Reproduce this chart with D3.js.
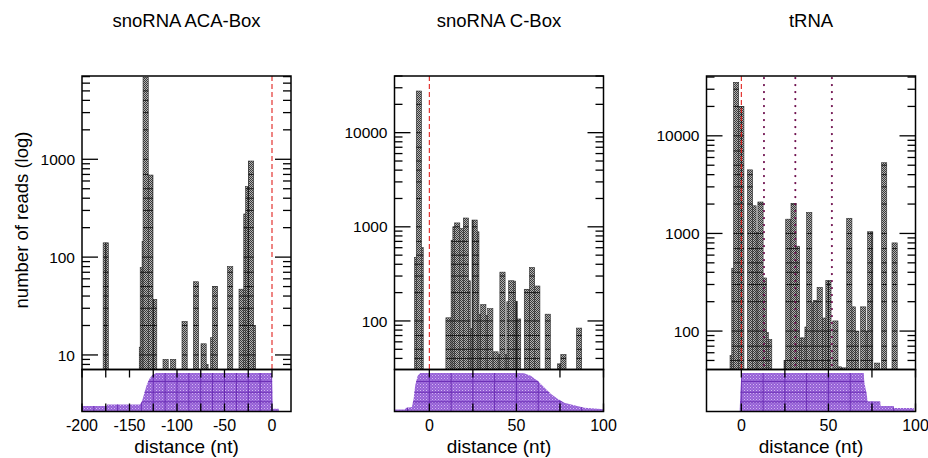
<!DOCTYPE html>
<html><head><meta charset="utf-8">
<script src="https://cdn.jsdelivr.net/npm/d3@7"></script>
<style>
body{margin:0;background:#fff}
svg{display:block}
text{font-family:"Liberation Sans",Arial,Helvetica,sans-serif;fill:#000}
</style>
</head><body>
<svg id="c" width="928" height="458"></svg>
<script>
// ---------------- data ----------------
const panelTitles = ["snoRNA ACA-Box", "snoRNA C-Box", "tRNA"];

// snoRNA ACA-Box: distance (nt) and number of reads
const acaPos   = [-175, -137, -136, -134, -133, -128, -124, -112, -104, -92, -80, -72, -70, -62, -60, -44, -32, -27, -25, -22, -20];
const acaReads = [ 140,   12,   78,  145, 6900,  690,   37,    9,    9,  22,  56,  13,   8,  15,  50,  80,  47, 276, 525, 960,  20];

// snoRNA C-Box
const cboxPos   = [-7, -6, -5, 11, 14, 15, 16, 18, 21, 22, 24, 26, 27, 28, 31, 32, 35, 38, 39, 42, 43, 46, 47, 48, 49, 51, 56, 57, 59, 62, 68, 75, 77, 86];
const cboxReads = [472, 27700, 600, 108, 720, 1000, 1100, 960, 1240, 267, 83, 1180, 885, 118, 149, 115, 135, 47, 44, 330, 44, 160, 267, 265, 162, 105, 217, 215, 370, 235, 118, 35, 44, 84];

// tRNA
const trnaPos   = [-5, -4, -3, 0, 5, 7, 9, 11, 13, 14, 16, 26, 27, 30, 32, 34, 36, 38, 39, 42, 43, 45, 48, 50, 54, 56, 59, 62, 64, 66, 70, 72, 74, 78, 82, 88];
const trnaReads = [56, 440, 35300, 20000, 4480, 1920, 1030, 2100, 350, 97, 82, 50, 1400, 2030, 740, 85, 85, 110, 1640, 195, 206, 280, 136, 330, 127, 43, 42, 1430, 177, 100, 177, 100, 1040, 47, 5300, 800];

// axis domains / ticks
const acaXDomain = [-200, 20],  cboxXDomain = [-20, 100], trnaXDomain = [-20, 100];
const acaYDomain = [7.1, 7100], cboxYDomain = [30.5, 40000], trnaYDomain = [40.4, 41000];
const acaXTickLabels  = [-200, -150, -100, -50, 0];
const cboxXTickLabels = [0, 50, 100];
const trnaXTickLabels = [0, 50, 100];
const acaYTickLabels  = [10, 100, 1000];
const cboxYTickLabels = [100, 1000, 10000];
const trnaYTickLabels = [100, 1000, 10000];

// reference lines
const acaRefLines = [0], cboxRefLines = [0], trnaRefLines = [0];
const trnaMotifLines = [13, 31, 52];

// coverage profile (fraction of max) shown in lower strip
const acaCovPos  = [-200, -174, -173.5, -139, -137, -135, -132, -129, -126, -122, 0, 0.6, 7, 7.5];
const acaCovVal  = [0.14, 0.14, 0.18, 0.18, 0.25, 0.42, 0.68, 0.85, 0.95, 1.0, 1.0, 0.07, 0.07, 0];
const cboxCovPos = [-20, -14, -13.8, -10, -9, -8.1, -6.7, -5.2, 50.5, 54.4, 58.2, 62.1, 65.9, 69.7, 73.6, 77.4, 83.2, 89, 96.7, 100];
const cboxCovVal = [0.05, 0.05, 0.09, 0.12, 0.33, 0.68, 0.93, 1.0, 1.0, 0.99, 0.93, 0.8, 0.63, 0.46, 0.33, 0.23, 0.16, 0.1, 0.07, 0.06];
const trnaCovPos = [-1, -0.5, 0, 70.3, 70.6, 72, 72.5, 79.7, 80, 87.3, 87.6, 99, 99.2];
const trnaCovVal = [0, 0.5, 1.0, 1.0, 0.76, 0.45, 0.26, 0.26, 0.14, 0.14, 0.09, 0.09, 0];

// ---------------- layout / style ----------------
const panelLeft = [82, 394.5, 706.5];
const panelW = 209;
const topY = 76, midY = 369.5, botY = 411.5;
const barPx = 5.2;
const gridMultipliers = [1, 2, 3, 4, 5, 7];

const panels = [
  {title: panelTitles[0], pos: acaPos, reads: acaReads, xDom: acaXDomain, yDom: acaYDomain,
   xLabels: acaXTickLabels, yLabels: acaYTickLabels, refs: acaRefLines, motifs: [], covPos: acaCovPos, covVal: acaCovVal},
  {title: panelTitles[1], pos: cboxPos, reads: cboxReads, xDom: cboxXDomain, yDom: cboxYDomain,
   xLabels: cboxXTickLabels, yLabels: cboxYTickLabels, refs: cboxRefLines, motifs: [], covPos: cboxCovPos, covVal: cboxCovVal},
  {title: panelTitles[2], pos: trnaPos, reads: trnaReads, xDom: trnaXDomain, yDom: trnaYDomain,
   xLabels: trnaXTickLabels, yLabels: trnaYTickLabels, refs: trnaRefLines, motifs: trnaMotifLines, covPos: trnaCovPos, covVal: trnaCovVal}
];

const svg = d3.select("#c");
const defs = svg.append("defs");

// bar texture
const bp = defs.append("pattern").attr("id", "barPat").attr("patternUnits", "userSpaceOnUse").attr("width", 2).attr("height", 2);
bp.append("rect").attr("width", 2).attr("height", 2).attr("fill", "#b2b2b2");
bp.append("rect").attr("width", 1).attr("height", 1).attr("fill", "#3a3a3a");
bp.append("rect").attr("x", 1).attr("y", 1).attr("width", 1).attr("height", 1).attr("fill", "#3a3a3a");
// coverage texture
const cp = defs.append("pattern").attr("id", "covPat").attr("patternUnits", "userSpaceOnUse").attr("width", 3).attr("height", 3);
cp.append("rect").attr("width", 3).attr("height", 3).attr("fill", "#955fd6");
cp.append("rect").attr("width", 1).attr("height", 1).attr("fill", "#d2b8f2");
cp.append("rect").attr("x", 1.5).attr("y", 1.5).attr("width", 1).attr("height", 1).attr("fill", "#c0a0ec");

function logTicks(dom) {
  const out = [];
  const d0 = Math.floor(Math.log10(dom[0])), d1 = Math.ceil(Math.log10(dom[1]));
  for (let d = d0; d <= d1; d++) for (let m = 1; m <= 9; m++) {
    const v = m * Math.pow(10, d);
    if (v >= dom[0] && v <= dom[1]) out.push({v, m});
  }
  return out;
}
function stepTicks(dom, step) {
  const out = [];
  for (let v = Math.ceil(dom[0] / step) * step; v <= dom[1] + 1e-9; v += step) out.push(v);
  return out;
}

panels.forEach((p, i) => {
  const x0 = panelLeft[i], x1 = x0 + panelW;
  const x = d3.scaleLinear().domain(p.xDom).range([x0, x1]);
  const y = d3.scaleLog().domain(p.yDom).range([midY, topY]);
  const yc = d3.scaleLinear().domain([0, 1.09]).range([botY, midY]);
  const g = svg.append("g");

  const bars = p.pos.map((d, k) => ({pos: d, n: p.reads[k]}))
                    .sort((a, b) => a.n - b.n);

  defs.append("clipPath").attr("id", "plot" + i).append("rect")
      .attr("x", x0).attr("y", topY).attr("width", panelW).attr("height", midY - topY);

  const bc = defs.append("clipPath").attr("id", "bars" + i);
  bc.selectAll("rect").data(bars).join("rect")
    .attr("x", d => x(d.pos) - barPx / 2).attr("width", barPx)
    .attr("y", d => y(d.n)).attr("height", d => midY - y(d.n));

  const up = g.append("g").attr("clip-path", `url(#plot${i})`);
  up.selectAll("rect.bar").data(bars).join("rect").attr("class", "bar")
    .attr("x", d => x(d.pos) - barPx / 2).attr("width", barPx)
    .attr("y", d => y(d.n)).attr("height", d => midY - y(d.n))
    .attr("fill", "url(#barPat)").attr("stroke", "#2a2a2a").attr("stroke-width", 0.6);

  const gridG = up.append("g").attr("clip-path", `url(#bars${i})`);
  logTicks(p.yDom).filter(t => gridMultipliers.includes(t.m)).forEach(t => {
    gridG.append("line").attr("x1", x0).attr("x2", x1).attr("y1", y(t.v)).attr("y2", y(t.v))
      .attr("stroke", "#111").attr("stroke-width", 0.9);
  });
  stepTicks(p.xDom, 25).forEach(v => {
    gridG.append("line").attr("x1", x(v)).attr("x2", x(v)).attr("y1", topY).attr("y2", midY)
      .attr("stroke", "#111").attr("stroke-width", 0.9);
  });

  p.refs.forEach(v => {
    up.append("line").attr("x1", x(v)).attr("x2", x(v)).attr("y1", topY).attr("y2", midY)
      .attr("stroke", "#e0201c").attr("stroke-width", 1.1).attr("stroke-dasharray", "5,3");
  });
  p.motifs.forEach(v => {
    up.append("line").attr("x1", x(v)).attr("x2", x(v)).attr("y1", topY + 2).attr("y2", midY)
      .attr("stroke", "#6e0f4e").attr("stroke-width", 2.2).attr("stroke-linecap", "round")
      .attr("stroke-dasharray", "0.1,6.9");
  });

  const cov = p.covPos.map((d, k) => ({pos: d, v: p.covVal[k]}));
  const area = d3.area().x(d => x(d.pos)).y0(botY).y1(d => yc(d.v));
  defs.append("clipPath").attr("id", "cov" + i).append("path").attr("d", area(cov));
  g.append("path").attr("d", area(cov)).attr("fill", "url(#covPat)");
  const cg = g.append("g").attr("clip-path", `url(#cov${i})`);
  stepTicks(p.xDom, 12.5).forEach(v => {
    cg.append("line").attr("x1", x(v)).attr("x2", x(v)).attr("y1", midY).attr("y2", botY)
      .attr("stroke", "#6a2db4").attr("stroke-width", 1);
  });
  [0.25, 0.5, 0.78].forEach(v => {
    cg.append("line").attr("x1", x0).attr("x2", x1).attr("y1", yc(v)).attr("y2", yc(v))
      .attr("stroke", "#6a2db4").attr("stroke-width", 1);
  });

  g.append("rect").attr("x", x0).attr("y", topY).attr("width", panelW).attr("height", midY - topY)
    .attr("fill", "none").attr("stroke", "#000").attr("stroke-width", 1.5);
  g.append("rect").attr("x", x0).attr("y", midY).attr("width", panelW).attr("height", botY - midY)
    .attr("fill", "none").attr("stroke", "#000").attr("stroke-width", 1.5);

  logTicks(p.yDom).forEach(t => {
    const len = t.m === 1 ? 16 : 8;
    g.append("line").attr("x1", x0).attr("x2", x0 + len).attr("y1", y(t.v)).attr("y2", y(t.v))
      .attr("stroke", "#000").attr("stroke-width", 1.3);
    g.append("line").attr("x1", x1 - len).attr("x2", x1).attr("y1", y(t.v)).attr("y2", y(t.v))
      .attr("stroke", "#000").attr("stroke-width", 1.3);
  });
  p.yLabels.forEach(v => {
    g.append("text").attr("x", x0 - 7).attr("y", y(v)).attr("dy", "0.36em")
      .attr("text-anchor", "end").attr("font-size", 15.5).text(String(v));
  });

  stepTicks(p.xDom, 25).forEach(v => {
    g.append("line").attr("x1", x(v)).attr("x2", x(v)).attr("y1", midY).attr("y2", midY + 8)
      .attr("stroke", "#000").attr("stroke-width", 1.3);
    g.append("line").attr("x1", x(v)).attr("x2", x(v)).attr("y1", botY - 8).attr("y2", botY)
      .attr("stroke", "#000").attr("stroke-width", 1.3);
  });
  p.xLabels.forEach(v => {
    g.append("text").attr("x", x(v)).attr("y", 431).attr("text-anchor", "middle")
      .attr("font-size", 16).text(String(v));
  });
  g.append("text").attr("x", (x0 + x1) / 2).attr("y", 453).attr("text-anchor", "middle")
    .attr("font-size", 19).text("distance (nt)");

  g.append("text").attr("x", (x0 + x1) / 2).attr("y", 26.5).attr("text-anchor", "middle")
    .attr("font-size", 18.5).text(p.title);
});

svg.append("text").attr("transform", "translate(21.5,220) rotate(-90)")
  .attr("text-anchor", "middle").attr("dy", "0.35em").attr("font-size", 18.5)
  .text("number of reads (log)");
</script>
</body></html>
